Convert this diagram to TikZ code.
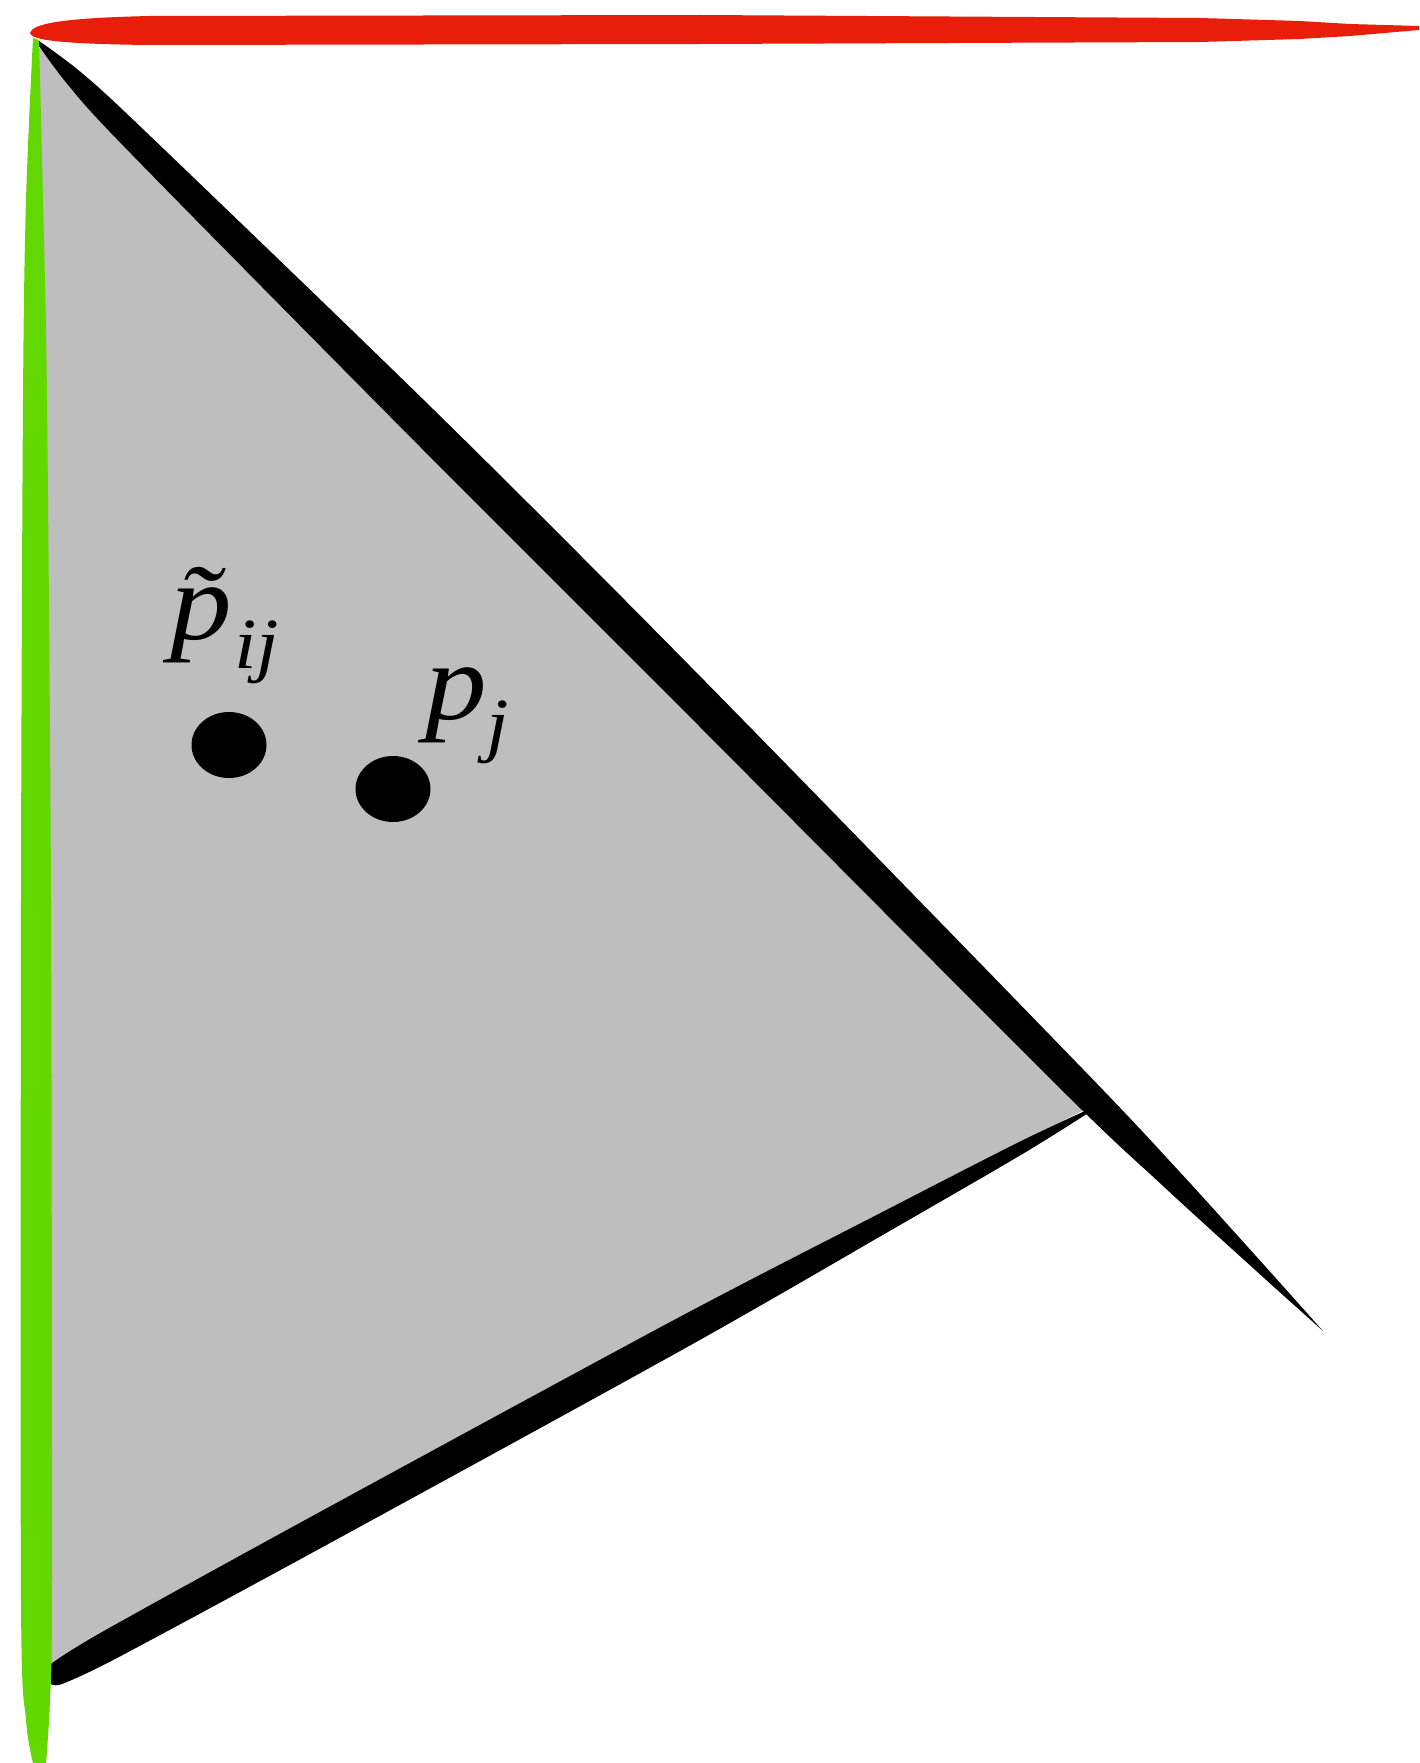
\documentclass[tikz,border=0pt]{standalone}
\usepackage{fontspec}
\setmainfont{Liberation Serif}
\usetikzlibrary{shapes.geometric}
\definecolor{brushred}{RGB}{232,30,10}
\definecolor{brushgreen}{RGB}{98,216,0}
\definecolor{regiongray}{RGB}{190,190,190}
\tikzset{
  pdot/.style={ellipse,fill=black,inner sep=0pt,minimum width=75pt,minimum height=66pt},
  biglabel/.style={inner sep=0pt,anchor=base west,font=\fontsize{110}{120}\selectfont\itshape},
  sublabel/.style={inner sep=0pt,anchor=base west,font=\fontsize{72}{80}\selectfont\itshape}
}
\begin{document}
\begin{tikzpicture}[x=1pt,y=-1pt]
\useasboundingbox (0,0) rectangle (1419,1763);
\fill[white] (0,0) rectangle (1419,1763);
% gray region
\fill[regiongray] (38,46) -- (129.8,152.5) -- (671.3,698.2) -- (1055,1083.4) -- (1084,1110)
  -- (1018.7,1143) -- (882.4,1213) -- (673.7,1322) -- (311.3,1519) -- (105,1633) -- (50,1664)
  -- (45,800) -- cycle;
% diagonal black stroke
\fill[black] plot[smooth] coordinates {(36.7,39.3) (81.0,72.3) (148.2,134.1) (438.7,414.6)
    (696.7,672.8) (1076.2,1062.2) (1176.4,1168.3) (1262.2,1263.0) (1323,1331)}
  -- plot[smooth] coordinates {(1323,1331) (1255.2,1270.0) (1160.8,1183.9) (1055.0,1083.4)
    (671.3,698.2) (413.3,440.0) (129.8,152.5) (68.2,85.1) (35.3,40.7)} -- cycle;
% lower black stroke
\fill[black] plot[smooth] coordinates {(1093.5,1107.1) (1018.7,1142.2) (882.4,1212.0)
    (673.2,1320.4) (310.8,1516.9) (104.5,1630.6) (54.3,1661.5)}
  .. controls (38,1671) and (45,1693) .. (65.7,1682.5)
  -- plot[smooth] coordinates {(65.7,1682.5) (118.9,1657.0) (326.2,1545.1) (687.6,1346.8)
    (892.0,1229.6) (1024.5,1152.8) (1094.5,1108.9)} -- cycle;
% green stroke
\fill[brushgreen] plot[smooth] coordinates {(33,38) (26,200) (23,400) (21,900) (21,1600) (26,1720) (33,1763)}
  -- plot[smooth] coordinates {(46,1763) (50,1700) (52,1580) (51,900) (47,400) (43,200) (39,40)} -- cycle;
% red stroke
\fill[brushred] (30,33) .. controls (32,24) and (60,18) .. (150,16) -- (700,15) -- (1200,18)
  -- (1300,21) -- (1350,24) -- (1419,26) -- (1419,30) -- (1350,36) -- (1300,39) -- (1200,42)
  -- (700,44) -- (150,45) .. controls (60,44) and (31,40) .. (30,33) -- cycle;
% points
\node[pdot] (pij) at (229,745) {};
\node[pdot] (pj) at (393,789) {};
% labels
\node[biglabel] (lpt) at (170,639) {\scalebox{1.12}[1]{\~p}};
\node[sublabel] (lptsub) at (234,668) {\scalebox{1.12}[1]{ij}};
\node[biglabel] (lp) at (425,719) {\scalebox{1.12}[1]{p}};
\node[sublabel] (lpsub) at (486,748) {\scalebox{1.12}[1]{j}};
\end{tikzpicture}
\end{document}
